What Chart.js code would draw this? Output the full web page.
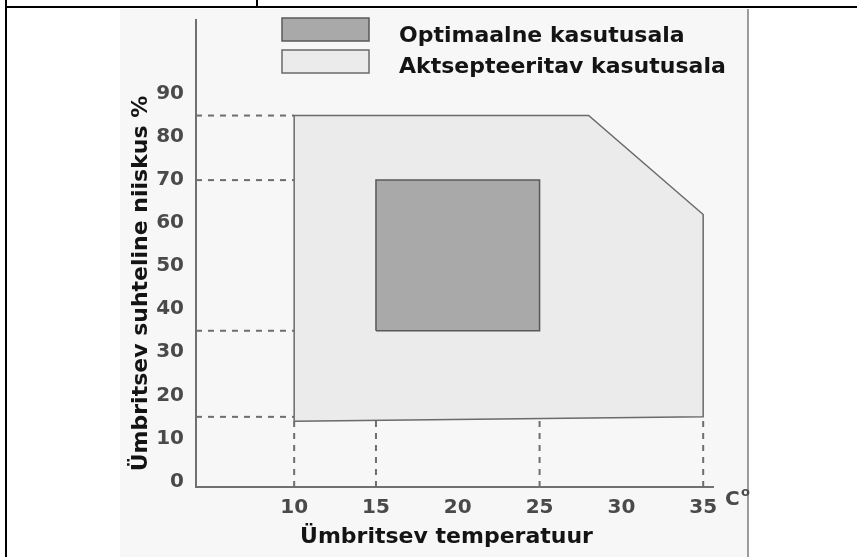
<!DOCTYPE html>
<html lang="et">
<head>
<meta charset="utf-8">
<title>Kasutusala</title>
<script src="https://cdn.jsdelivr.net/npm/chart.js@4.4.1/dist/chart.umd.min.js"></script>
<style>
  html, body { margin: 0; padding: 0; background: #fff; }
  #wrap { position: relative; width: 857px; height: 557px; overflow: hidden; }
  .rule { position: absolute; background: #000; }
  #scan { position: absolute; left: 120px; top: 9px; width: 627px; height: 548px; background: #f7f7f7; border-right: 2px solid #9c9c9c; }
  canvas { position: absolute; left: 0; top: 0; }
</style>
</head>
<body>
<div id="wrap">
  <div id="scan"></div>
  <div class="rule" style="left:5px;top:6px;width:852px;height:2px"></div>
  <div class="rule" style="left:5px;top:0;width:2px;height:557px"></div>
  <div class="rule" style="left:256px;top:0;width:2px;height:7px"></div>
  <canvas id="range" width="857" height="557"></canvas>
</div>
<script>
const tempTicks = [10, 15, 20, 25, 30, 35];
const humidityTicks = [0, 10, 20, 30, 40, 50, 60, 70, 80, 90];

// acceptable range, corners in drawing order (°C / %)
const acceptTemp = [10, 10, 28, 35, 35, 10];
const acceptHumidity = [14, 85, 85, 62, 15, 14];

// optimal range
const optimalTemp = [15, 15, 25, 25, 15];
const optimalHumidity = [35, 70, 70, 35, 35];

// dashed helper lines
const guideHumidity = [85, 70, 35, 15];
const guideTemp = [10, 15, 25, 35];

const legendLabels = ["Optimaalne kasutusala", "Aktsepteeritav kasutusala"];

const tempMin = 4.0, tempMax = 35.6;
const humMin = -1.3, humMax = 107.2;

let toPoints = (xs, ys) => xs.map((v, i) => ({ x: v, y: ys[i] }));

let guideSets = () => {
  const sets = [];
  guideHumidity.forEach((h) => {
    sets.push({ data: [{ x: tempMin, y: h }, { x: acceptTemp[0], y: h }] });
  });
  guideTemp.forEach((t) => {
    sets.push({ data: [{ x: t, y: humMin }, { x: t, y: 15 }] });
  });
  return sets.map((s) => ({
    ...s,
    borderColor: "#6e6e6e",
    borderWidth: 2,
    borderDash: [6, 6],
    pointRadius: 0,
    fill: false,
    order: 3,
  }));
};

const rangeLabels = {
  id: "rangeLabels",
  afterDraw(chart) {
    const { ctx, chartArea: a } = chart;
    const sets = chart.data.datasets;
    ctx.save();

    // legend
    const swatches = [sets[0], sets[1]];
    ctx.lineWidth = 1.5;
    swatches.forEach((ds, i) => {
      const top = 18 + i * 32;
      ctx.fillStyle = ds.backgroundColor;
      ctx.strokeStyle = ds.borderColor;
      ctx.fillRect(282, top, 87, 23);
      ctx.strokeRect(282, top, 87, 23);
    });
    ctx.fillStyle = "#141414";
    ctx.font = 'bold 22px "DejaVu Sans"';
    ctx.textAlign = "left";
    ctx.textBaseline = "alphabetic";
    ctx.fillText(legendLabels[0], 399, 42);
    ctx.fillText(legendLabels[1], 399, 73);

    // axis titles
    ctx.textAlign = "center";
    ctx.textBaseline = "middle";
    ctx.fillText("Ümbritsev temperatuur", (a.left + a.right) / 2 - 8, a.bottom + 50);
    ctx.save();
    ctx.translate(a.left - 55, (a.top + a.bottom) / 2 + 30);
    ctx.rotate(-Math.PI / 2);
    ctx.fillText("Ümbritsev suhteline niiskus %", 0, 0);
    ctx.restore();

    // unit after the last tick
    ctx.fillStyle = "#4a4a4a";
    ctx.textAlign = "left";
    ctx.textBaseline = "alphabetic";
    ctx.font = 'bold 20px "DejaVu Sans"';
    ctx.fillText("C", a.right + 12, a.bottom + 18);
    ctx.font = 'bold 13px "DejaVu Sans"';
    ctx.fillText("o", a.right + 28, a.bottom + 9);
    ctx.restore();
  },
};

Chart.defaults.font.family = '"DejaVu Sans"';

const chart = new Chart(document.getElementById("range").getContext("2d"), {
  type: "line",
  data: {
    datasets: [
      {
        label: legendLabels[0],
        data: toPoints(optimalTemp, optimalHumidity),
        backgroundColor: "#a9a9a9",
        borderColor: "#595959",
        borderWidth: 1.5,
        pointRadius: 0,
        fill: "shape",
        order: 1,
      },
      {
        label: legendLabels[1],
        data: toPoints(acceptTemp, acceptHumidity),
        backgroundColor: "#ebebeb",
        borderColor: "#6a6a6a",
        borderWidth: 1.5,
        pointRadius: 0,
        fill: "shape",
        order: 2,
      },
      ...guideSets(),
    ],
  },
  options: {
    responsive: false,
    animation: false,
    devicePixelRatio: 1,
    events: [],
    layout: { padding: { left: 0, top: 20, right: 144, bottom: 0 } },
    plugins: { legend: { display: false }, tooltip: { enabled: false } },
    scales: {
      x: {
        type: "linear",
        min: tempMin,
        max: tempMax,
        afterBuildTicks: (s) => { s.ticks = tempTicks.map((v) => ({ value: v })); },
        afterFit: (s) => { s.height = 70; },
        grid: { display: false },
        border: { display: true, color: "#707070", width: 2 },
        ticks: { color: "#4a4a4a", padding: 1, font: { size: 20, weight: "bold" } },
      },
      y: {
        type: "linear",
        min: humMin,
        max: humMax,
        afterBuildTicks: (s) => { s.ticks = humidityTicks.map((v) => ({ value: v })); },
        afterFit: (s) => { s.width = 196; },
        grid: { display: false },
        border: { display: true, color: "#707070", width: 2 },
        ticks: { color: "#4a4a4a", padding: 4, font: { size: 20, weight: "bold" } },
      },
    },
  },
  plugins: [rangeLabels],
});
</script>
</body>
</html>
